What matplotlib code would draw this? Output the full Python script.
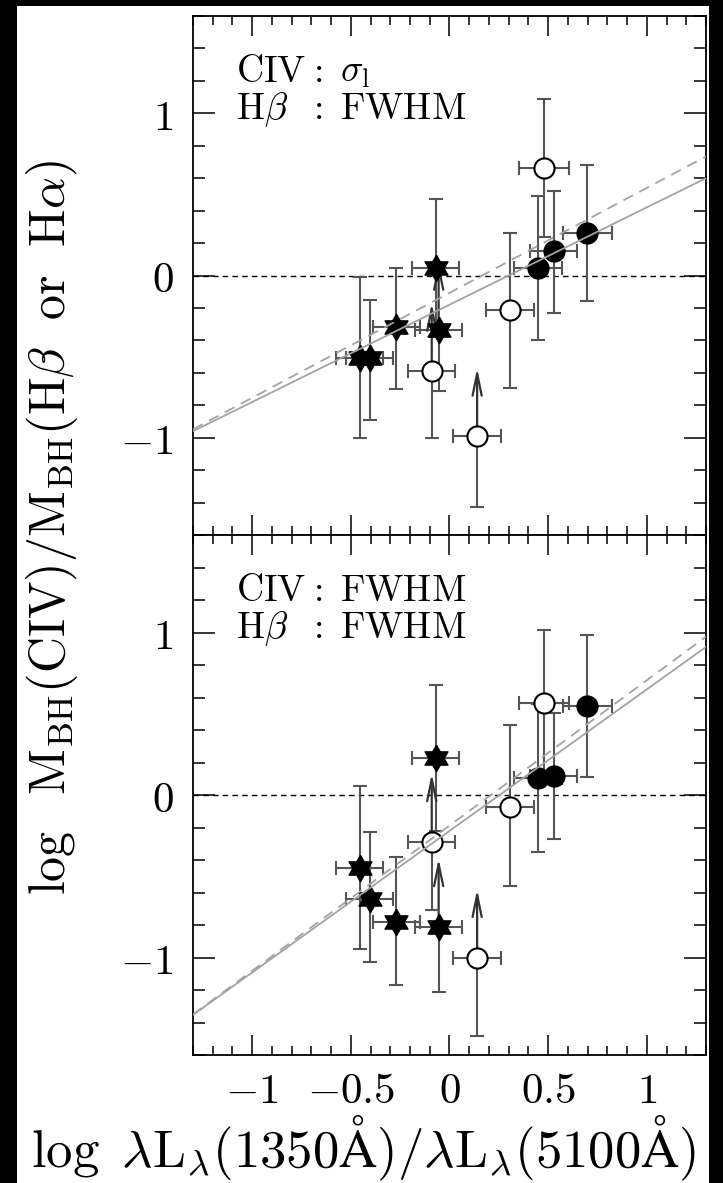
import numpy as np
import matplotlib
matplotlib.use("Agg")
import matplotlib.pyplot as plt
from matplotlib.patches import Rectangle
from matplotlib.ticker import MultipleLocator

plt.rcParams['mathtext.fontset'] = 'cm'
plt.rcParams['font.family'] = ['DejaVu Serif']

# ---------------- data ----------------
names = ['A', 'B', 'C', 'D', 'E', 'F', 'G', 'H', 'I', 'J', 'K', 'L']
kind = ['star', 'star', 'star', 'star', 'star', 'open', 'open', 'open',
        'filled', 'open', 'filled', 'filled']
x_val = [-0.455, -0.405, -0.27, -0.07, -0.055, -0.09, 0.14, 0.307,
         0.448, 0.479, 0.528, 0.698]
x_err = [0.12, 0.12, 0.12, 0.12, 0.12, 0.12, 0.12, 0.12, 0.12, 0.125, 0.12, 0.125]
lower_limit = [False, False, False, False, True, True, True, False,
               False, False, False, False]

# top panel: CIV sigma_l vs Hbeta FWHM
y_top = [-0.51, -0.51, -0.32, 0.045, -0.337, -0.59, -0.99, -0.215,
         0.045, 0.66, 0.15, 0.26]
ylo_top = [0.49, 0.38, 0.38, 0.425, 0.375, 0.41, 0.44, 0.48,
           0.445, 0.42, 0.38, 0.42]
yhi_top = [0.50, 0.36, 0.365, 0.425, 0.0, 0.0, 0.0, 0.48,
           0.445, 0.43, 0.37, 0.42]

# bottom panel: CIV FWHM vs Hbeta FWHM
y_bot = [-0.447, -0.64, -0.78, 0.23, -0.81, -0.287, -1.0, -0.072,
         0.107, 0.565, 0.117, 0.55]
ylo_bot = [0.50, 0.39, 0.39, 0.45, 0.40, 0.42, 0.48, 0.49,
           0.457, 0.45, 0.39, 0.44]
yhi_bot = [0.50, 0.41, 0.40, 0.45, 0.0, 0.0, 0.0, 0.50,
           0.45, 0.45, 0.39, 0.435]

# fitted relations (slope, intercept)
fit_solid_top = (0.60, -0.18)
fit_dash_top = (0.647, -0.107)
fit_solid_bot = (0.871, -0.221)
fit_dash_bot = (0.894, -0.188)

arrow_len = 0.42

x_ticks = [-1, -0.5, 0, 0.5, 1]
x_ticklabels = [r'$-1$', r'$-0.5$', r'$0$', r'$0.5$', r'$1$']
y_ticks = [-1, 0, 1]
y_ticklabels = [r'$-1$', r'$0$', r'$1$']

# ---------------- figure ----------------
W, H = 723, 1183
fig = plt.figure(figsize=(W / 100, H / 100), dpi=100)
fig.patch.set_facecolor('white')

left = 193 / W
right = 706 / W
ax_top = fig.add_axes([left, 1 - 535 / H, right - left, (535 - 16) / H])
ax_bot = fig.add_axes([left, 1 - 1055 / H, right - left, (1055 - 535) / H])

# six-pointed star marker
ang = np.pi / 2 + np.arange(12) * np.pi / 6
rad = np.where(np.arange(12) % 2 == 0, 1.0, 0.577)
star_verts = list(zip(rad * np.cos(ang), rad * np.sin(ang)))
star_verts.append(star_verts[0])

err_col = '#555555'
line_col = '#a3a3a3'


def draw_panel(ax, y, ylo, yhi, fs, fd, lines):
    xx = np.array([-1.3, 1.3])
    ax.axhline(0, color='black', lw=1.0, ls=(0, (4, 3)), zorder=1)
    for i in range(len(x_val)):
        ax.errorbar(x_val[i], y[i], xerr=x_err[i], yerr=[[ylo[i]], [yhi[i]]],
                    fmt='none', ecolor=err_col, elinewidth=1.5, capsize=5,
                    capthick=1.5, zorder=2)
        if lower_limit[i]:
            ax.annotate('', xy=(x_val[i], y[i] + arrow_len), xytext=(x_val[i], y[i]),
                        arrowprops=dict(arrowstyle='->,head_length=1.6,head_width=0.33',
                                        color='#333333', lw=1.6, shrinkA=0, shrinkB=0),
                        zorder=2)
    for i in range(len(x_val)):
        if kind[i] == 'star':
            ax.plot(x_val[i], y[i], marker=star_verts, ms=19, mfc='black',
                    mec='black', mew=1, ls='none', zorder=3)
        elif kind[i] == 'open':
            ax.plot(x_val[i], y[i], marker='o', ms=14.5, mfc='white',
                    mec='black', mew=1.5, ls='none', zorder=3)
        else:
            ax.plot(x_val[i], y[i], marker='o', ms=14.5, mfc='black',
                    mec='black', mew=1.5, ls='none', zorder=3)
    ax.plot(xx, fs[0] * xx + fs[1], color=line_col, lw=1.3, zorder=4)
    ax.plot(xx, fd[0] * xx + fd[1], color=line_col, lw=1.3, ls=(0, (6, 4)), zorder=4)

    ax.set_xlim(-1.3, 1.3)
    ax.set_ylim(-1.6, 1.6)
    ax.set_xticks(x_ticks)
    ax.set_yticks(y_ticks, labels=y_ticklabels)
    ax.xaxis.set_minor_locator(MultipleLocator(0.1))
    ax.yaxis.set_minor_locator(MultipleLocator(0.2))
    ax.tick_params(which='both', direction='in', top=True, right=True,
                   width=1.1, colors='black')
    ax.tick_params(axis='x', which='major', length=14.5, pad=11)
    ax.tick_params(axis='x', which='minor', length=6.5)
    ax.tick_params(axis='y', which='major', length=16, pad=14)
    ax.tick_params(axis='y', which='minor', length=8.5)
    ax.tick_params(labelsize=31)
    for s in ax.spines.values():
        s.set_linewidth(1.3)

    tfs = 27
    x0, x1, x2 = 0.084, 0.222, 0.286
    ya, yb = 0.873, 0.802
    ax.text(x0, ya, r'$\mathrm{CIV}$', transform=ax.transAxes, fontsize=tfs, va='baseline')
    ax.text(x1, ya, r'$\mathrm{:}$', transform=ax.transAxes, fontsize=tfs, va='baseline')
    ax.text(x2, ya, lines[0], transform=ax.transAxes, fontsize=tfs, va='baseline')
    ax.text(x0, yb, r'$\mathrm{H}\beta$', transform=ax.transAxes, fontsize=tfs, va='baseline')
    ax.text(x1, yb, r'$\mathrm{:}$', transform=ax.transAxes, fontsize=tfs, va='baseline')
    ax.text(x2, yb, lines[1], transform=ax.transAxes, fontsize=tfs, va='baseline')


draw_panel(ax_top, y_top, ylo_top, yhi_top, fit_solid_top, fit_dash_top,
           [r'$\sigma_{\mathrm{l}}$', r'$\mathrm{FWHM}$'])
draw_panel(ax_bot, y_bot, ylo_bot, yhi_bot, fit_solid_bot, fit_dash_bot,
           [r'$\mathrm{FWHM}$', r'$\mathrm{FWHM}$'])

ax_top.set_xticks(x_ticks, labels=[])
ax_bot.set_xticks(x_ticks, labels=x_ticklabels)

fig.text(364 / W, 1 - 1167 / H,
         r'$\log\ \lambda\mathrm{L}_{\lambda}(1350\mathrm{\AA})/\lambda\mathrm{L}_{\lambda}(5100\mathrm{\AA})$',
         fontsize=38, ha='center', va='baseline')
fig.text(52 / W, 1 - 528 / H,
         r'$\log\ \ \mathrm{M_{BH}(CIV)/M_{BH}(H}\beta\ \ \mathrm{or}\ \ \mathrm{H}\alpha)$',
         fontsize=36, ha='center', va='center', rotation=90)

# black border of the screenshot
for (bx, by, bw, bh) in [(0, 0, 17 / W, 1), (0, 1 - 6 / H, 1, 6 / H),
                         (709 / W, 0, 1 - 709 / W, 1)]:
    fig.add_artist(Rectangle((bx, by), bw, bh, transform=fig.transFigure,
                             facecolor='black', edgecolor='none', zorder=100))

fig.savefig('out.png', dpi=100, facecolor='white')
